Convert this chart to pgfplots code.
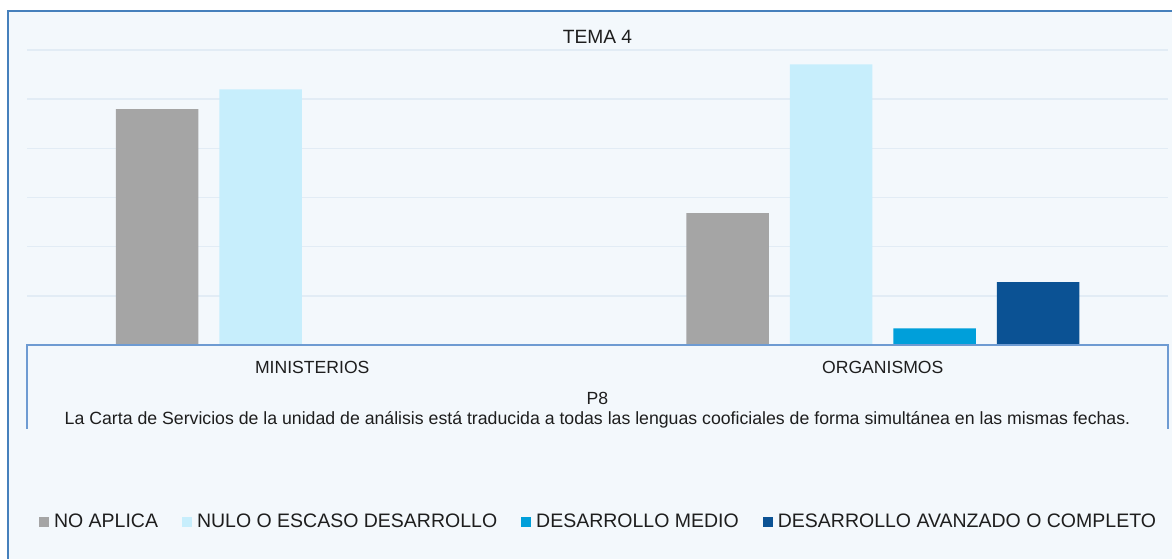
\documentclass[border=0pt]{standalone}
\usepackage{pgfplots}
\pgfplotsset{compat=1.18}
\usepackage{fontspec}
\setmainfont{Liberation Sans}
\definecolor{bgcol}{RGB}{243,248,252}
\definecolor{framecol}{RGB}{70,128,188}
\definecolor{gridcol}{RGB}{226,236,245}
\definecolor{axiscol}{RGB}{110,155,210}
\definecolor{txtcol}{RGB}{30,30,30}
\definecolor{cNA}{RGB}{165,165,165}
\definecolor{cNULO}{RGB}{199,238,252}
\definecolor{cMEDIO}{RGB}{0,159,218}
\definecolor{cAVAN}{RGB}{11,82,148}
\newcommand{\fs}[1]{\fontsize{#1bp}{1.15\dimexpr#1bp\relax}\selectfont}
\begin{document}
\begin{tikzpicture}
\useasboundingbox (0,0) rectangle (586bp,279.5bp);
\clip (0,0) rectangle (586bp,279.5bp);
\fill[white] (0,0) rectangle (586bp,279.5bp);
\filldraw[fill=bgcol, draw=framecol, line width=1.1bp] (4bp,-10bp) rectangle (600bp,274bp);
\begin{axis}[
  at={(13.5bp,107bp)}, anchor=south west,
  scale only axis, width=570.5bp, height=147.5bp,
  xmin=-0.5, xmax=1.5, ymin=0, ymax=60,
  ytick={0,10,20,30,40,50,60}, yticklabels={},
  xtick={0,1}, xticklabels={MINISTERIOS,ORGANISMOS},
  major tick length=0pt,
  axis line style={draw=none},
  ymajorgrids, major grid style={draw=gridcol, line width=0.7bp},
  xticklabel style={anchor=center, inner sep=0pt, yshift=-11bp, font=\fs{8.8}, text=txtcol},
  title={TEMA 4},
  title style={at={(axis description cs:0.5,1)}, anchor=base, inner sep=0pt, yshift=-2.65bp, font=\fs{9.6}, text=txtcol},
  xlabel={P8},
  xlabel style={at={(axis description cs:0.5,0)}, anchor=base, inner sep=0pt, yshift=-29.65bp, font=\fs{8.8}, text=txtcol},
  ybar=10.5bp, bar width=41.25bp,
  clip=false,
  legend columns=4,
  legend style={at={(axis description cs:0.5,-0.6)}, anchor=center, draw=none, fill=none,
    inner sep=0pt, outer sep=0pt, font=\fs{9.75}, text=txtcol,
    cells={anchor=west}, nodes={inner sep=0pt},
    /tikz/every even column/.append style={column sep=12bp}},
  legend image code/.code={\fill[#1] (0bp,-2.5bp) rectangle (5bp,2.5bp); \path (7.5bp,0bp);},
]
\addplot[fill=cNA, draw=none] coordinates {(0,48.0) (1,26.8)};
\addplot[fill=cNULO, draw=none] coordinates {(0,52.0) (1,57.1)};
\addplot[fill=cMEDIO, draw=none] coordinates {(0,0) (1,3.4)};
\addplot[fill=cAVAN, draw=none] coordinates {(0,0) (1,12.8)};
\legend{NO APLICA,NULO O ESCASO DESARROLLO,DESARROLLO MEDIO,DESARROLLO AVANZADO O COMPLETO}
\draw[axiscol, line width=0.6bp] (axis description cs:0,-0.2847) -- (axis description cs:0,0) -- (axis description cs:1,0) -- (axis description cs:1,-0.2847);
\node[anchor=base, inner sep=0pt, font=\fs{8.85}, text=txtcol, yshift=-39.65bp] at (axis description cs:0.5,0) {La Carta de Servicios de la unidad de análisis está traducida a todas las lenguas cooficiales de forma simultánea en las mismas fechas.};
\end{axis}
\end{tikzpicture}
\end{document}
